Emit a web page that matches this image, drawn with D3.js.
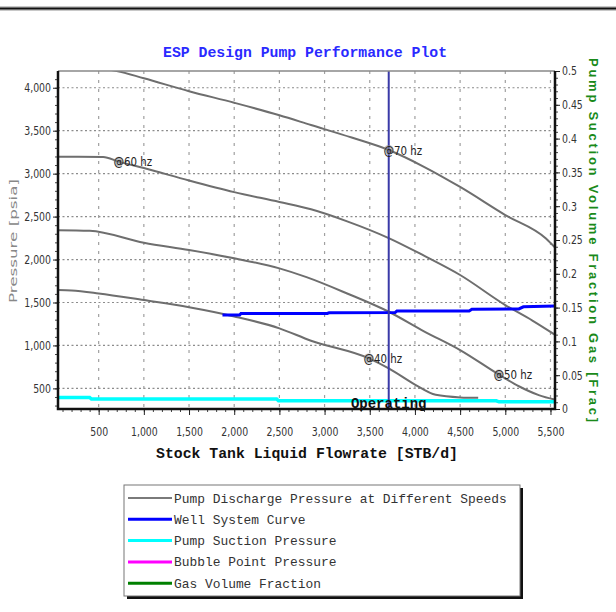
<!DOCTYPE html>
<html>
<head>
<meta charset="utf-8">
<script src="https://cdnjs.cloudflare.com/ajax/libs/d3/7.8.5/d3.min.js"></script>
<style>
  body { margin: 0; background: #fff; }
  svg { display: block; }
</style>
</head>
<body>
<script>
const width = 616;
const height = 612;

// data: [flowrate STB/d, pressure psia]
const curve70 = [[50,4235],[500,4225],[700,4195],[1000,4110],[1500,3960],[2000,3825],[2500,3680],[2850,3566],[3300,3420],[3710,3275],[4100,3080],[4500,2845],[5000,2518],[5450,2245],[5555,2135]];
const curve60 = [[50,3197],[550,3195],[720,3140],[1000,3065],[1500,2920],[2000,2785],[2500,2670],[2850,2585],[3250,2445],[3710,2250],[4100,2045],[4500,1820],[5000,1470],[5300,1290],[5555,1121]];
const curve50 = [[50,2342],[400,2335],[1000,2195],[1500,2110],[2000,2014],[2500,1897],[2800,1795],[3250,1605],[3710,1392],[4100,1165],[4500,946],[4930,660],[5150,525],[5370,422],[5555,368]];
const curve40 = [[50,1645],[200,1640],[500,1606],[1000,1528],[1500,1445],[2000,1338],[2500,1199],[2850,1055],[3490,849],[3710,733],[4000,545],[4230,425],[4500,395],[4700,390]];
const wellCurve = [[1870,1354],[2060,1354],[2075,1372],[3030,1372],[3050,1380],[3780,1382],[3800,1400],[4600,1402],[4630,1422],[5150,1425],[5200,1450],[5555,1458]];
const suctionCurve = [[50,395],[400,395],[420,376],[2470,376],[2490,356],[4900,356],[4930,344],[5555,344]];
const speedLabels = ['@70 hz', '@60 hz', '@50 hz', '@40 hz'];
const labelFlow = [3710, 722, 4928, 3489];
const operatingFlow = 3710;

const flowTicks = [500,1000,1500,2000,2500,3000,3500,4000,4500,5000,5500];
const pressureTicks = [500,1000,1500,2000,2500,3000,3500,4000];
const fracTicks = [0,0.05,0.1,0.15,0.2,0.25,0.3,0.35,0.4,0.45,0.5];

const legendNames = ['Pump Discharge Pressure at Different Speeds','Well System Curve','Pump Suction Pressure','Bubble Point Pressure','Gas Volume Fraction'];
const legendColors = ['#7a7a7a','#0000ff','#00ffff','#ff00ff','#008000'];

const plot = { left: 58, right: 555, top: 71, bottom: 409 };
const sans = "'DejaVu Sans','Liberation Sans',sans-serif";
const mono = "'Liberation Mono','Courier New',monospace";

const x = d3.scaleLinear().domain([50, 5550]).range([plot.left, plot.right]);
const y = d3.scaleLinear().domain([260, 4195]).range([plot.bottom, plot.top]);
const yR = d3.scaleLinear().domain([0, 0.5]).range([plot.bottom, plot.top]);

const svg = d3.select('body').append('svg')
    .attr('width', width)
    .attr('height', height);

// top rule
svg.append('rect').attr('x', 0).attr('y', 6).attr('width', width).attr('height', 5).attr('fill', '#c8c8c8');
svg.append('rect').attr('x', 0).attr('y', 7.5).attr('width', width).attr('height', 2).attr('fill', '#111');

svg.append('defs').append('clipPath').attr('id', 'clip')
    .append('rect')
    .attr('x', plot.left).attr('y', plot.top)
    .attr('width', plot.right - plot.left).attr('height', plot.bottom - plot.top);

// grid
const grid = svg.append('g');
grid.selectAll('.hg').data(pressureTicks).enter().append('line')
    .attr('x1', plot.left).attr('x2', plot.right)
    .attr('y1', d => y(d)).attr('y2', d => y(d))
    .attr('stroke', '#8c8c8c').attr('stroke-width', 1.2).attr('stroke-dasharray', '2,2.5');
grid.selectAll('.vg').data(flowTicks).enter().append('line')
    .attr('x1', d => x(d)).attr('x2', d => x(d))
    .attr('y1', plot.top).attr('y2', plot.bottom)
    .attr('stroke', '#a0a0a0').attr('stroke-width', 1.2).attr('stroke-dasharray', '3,6');

const line = d3.line().x(d => x(d[0])).y(d => y(d[1]));
const smooth = d3.line().x(d => x(d[0])).y(d => y(d[1])).curve(d3.curveMonotoneX);
const curves = svg.append('g').attr('clip-path', 'url(#clip)');

const curveSet = [curve70, curve60, curve50, curve40];
curveSet.forEach(c => {
    curves.append('path')
        .datum(c)
        .attr('d', smooth)
        .attr('fill', 'none')
        .attr('stroke', '#6e6e6e')
        .attr('stroke-width', 2);
});

curves.append('path').datum(suctionCurve).attr('d', line)
    .attr('fill', 'none').attr('stroke', '#00ffff').attr('stroke-width', 3.5);
curves.append('path').datum(wellCurve).attr('d', line)
    .attr('fill', 'none').attr('stroke', '#0000ff').attr('stroke-width', 3);

// operating point line
svg.append('line')
    .attr('x1', x(operatingFlow)).attr('x2', x(operatingFlow))
    .attr('y1', plot.top).attr('y2', plot.bottom)
    .attr('stroke', '#3a3aa8').attr('stroke-width', 2);

// speed labels
speedLabels.forEach((lab, i) => {
    const q = labelFlow[i];
    const c = curveSet[i];
    const p = d3.scaleLinear().domain(c.map(d => d[0])).range(c.map(d => d[1]))(q);
    svg.append('circle')
        .attr('cx', x(q)).attr('cy', y(p)).attr('r', 5)
        .attr('fill', '#8a8a8a').attr('opacity', 0.55);
    svg.append('text')
        .attr('transform', `translate(${x(q) - 5},${y(p) + 4.5}) scale(0.82,1)`)
        .style('font-family', sans)
        .style('font-size', '12.5px')
        .attr('fill', '#222')
        .text(lab);
});

// axes
function styleAxis(g) {
    g.select('.domain').remove();
    g.selectAll('.tick line').attr('stroke', '#222').attr('stroke-width', 1);
    g.selectAll('.tick text')
        .style('font-family', sans)
        .style('font-size', '12px')
        .attr('fill', '#333');
}
function squeeze(g, k) {
    g.selectAll('.tick text').each(function () {
        const t = d3.select(this);
        const tx = +t.attr('x') || 0;
        const ty = +t.attr('y') || 0;
        t.attr('x', null).attr('y', null)
            .attr('transform', `translate(${tx},${ty}) scale(${k},1)`);
    });
}

svg.append('g')
    .attr('transform', `translate(0,${plot.bottom})`)
    .call(d3.axisBottom(x).tickValues(d3.range(100, 5600, 100)).tickSize(3).tickFormat(''))
    .call(g => g.select('.domain').remove())
    .call(g => g.selectAll('line').attr('stroke', '#444'));
svg.append('g')
    .attr('transform', `translate(0,${plot.bottom})`)
    .call(d3.axisBottom(x).tickValues(flowTicks).tickSize(6).tickPadding(12).tickFormat(d3.format(',')))
    .call(styleAxis)
    .call(g => squeeze(g, 0.78));

svg.append('g')
    .attr('transform', `translate(${plot.left},0)`)
    .call(d3.axisLeft(y).tickValues(d3.range(300, 4200, 100)).tickSize(3).tickFormat(''))
    .call(g => g.select('.domain').remove())
    .call(g => g.selectAll('line').attr('stroke', '#444'));
svg.append('g')
    .attr('transform', `translate(${plot.left},0)`)
    .call(d3.axisLeft(y).tickValues(pressureTicks).tickSize(5).tickPadding(2).tickFormat(d3.format(',')))
    .call(styleAxis)
    .call(g => squeeze(g, 0.78));

svg.append('g')
    .attr('transform', `translate(${plot.right},0)`)
    .call(d3.axisRight(yR).tickValues(d3.range(0, 0.501, 0.01)).tickSize(3).tickFormat(''))
    .call(g => g.select('.domain').remove())
    .call(g => g.selectAll('line').attr('stroke', '#444'));
svg.append('g')
    .attr('transform', `translate(${plot.right},0)`)
    .call(d3.axisRight(yR).tickValues(fracTicks).tickSize(5).tickPadding(2).tickFormat(d => String(+d.toFixed(2))))
    .call(styleAxis)
    .call(g => squeeze(g, 0.78));

// frame
svg.append('line').attr('x1', plot.left).attr('x2', plot.right).attr('y1', plot.top).attr('y2', plot.top)
    .attr('stroke', '#888').attr('stroke-width', 1.5);
svg.append('path')
    .attr('d', `M${plot.left},${plot.top}V${plot.bottom}H${plot.right}V${plot.top}`)
    .attr('fill', 'none').attr('stroke', '#111').attr('stroke-width', 2.5);

svg.append('text')
    .attr('x', x(operatingFlow)).attr('y', plot.bottom - 1)
    .attr('text-anchor', 'middle')
    .style('font-family', mono).style('font-weight', 'bold').style('font-size', '14px')
    .attr('fill', '#111')
    .text('Operating');

// titles
svg.append('text')
    .attr('x', 305).attr('y', 57)
    .attr('text-anchor', 'middle')
    .attr('textLength', 284)
    .attr('lengthAdjust', 'spacingAndGlyphs')
    .style('font-family', mono).style('font-weight', 'bold').style('font-size', '15px')
    .attr('fill', '#2a2aff')
    .text('ESP Design Pump Performance Plot');

svg.append('text')
    .attr('x', 307).attr('y', 458)
    .attr('text-anchor', 'middle')
    .style('font-family', mono).style('font-weight', 'bold').style('font-size', '14.8px')
    .attr('fill', '#111')
    .text('Stock Tank Liquid Flowrate [STB/d]');

svg.append('text')
    .attr('transform', 'translate(17,241) rotate(-90)')
    .attr('text-anchor', 'middle')
    .attr('textLength', 124)
    .attr('lengthAdjust', 'spacingAndGlyphs')
    .style('font-family', sans).style('font-size', '10px')
    .attr('fill', '#888')
    .text('Pressure [psia]');

svg.append('text')
    .attr('transform', 'translate(589,240) rotate(90)')
    .attr('text-anchor', 'middle')
    .attr('textLength', 364)
    .attr('lengthAdjust', 'spacing')
    .style('font-family', "'Liberation Sans',Arial,sans-serif").style('font-weight', 'bold').style('font-size', '13px')
    .attr('fill', '#1a8a1a')
    .text('Pump Suction Volume Fraction Gas [Frac]');

// legend
const legend = svg.append('g');
legend.append('rect')
    .attr('x', 127).attr('y', 488).attr('width', 396).attr('height', 111)
    .attr('fill', '#111');
legend.append('rect')
    .attr('x', 124).attr('y', 485).attr('width', 396).attr('height', 111)
    .attr('fill', '#fff').attr('stroke', '#777').attr('stroke-width', 1);
legendNames.forEach((name, i) => {
    const ly = 498 + i * 21.3;
    legend.append('line')
        .attr('x1', 128).attr('x2', 172).attr('y1', ly).attr('y2', ly)
        .attr('stroke', legendColors[i]).attr('stroke-width', i === 0 ? 2 : 3);
    legend.append('text')
        .attr('x', 174).attr('y', ly + 4.5)
        .style('font-family', mono).style('font-size', '12.9px')
        .attr('fill', '#333')
        .text(name);
});
</script>
</body>
</html>
